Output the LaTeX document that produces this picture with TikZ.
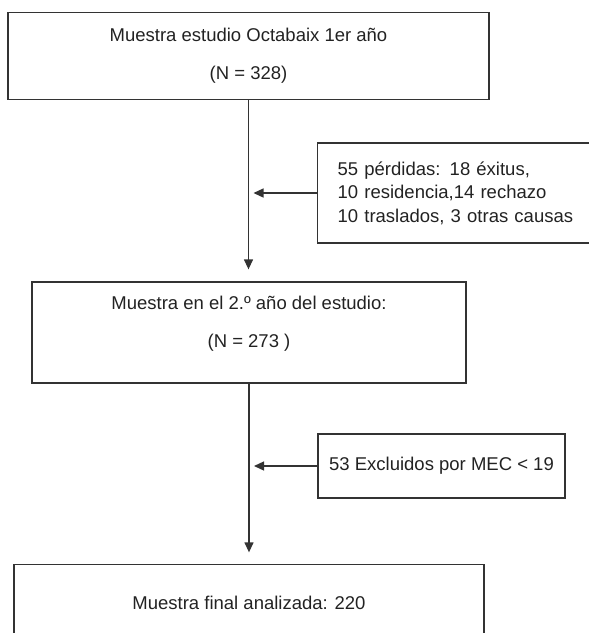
\documentclass[tikz,border=0pt]{standalone}
\usepackage{fontspec}
\setmainfont{Liberation Sans}
\usetikzlibrary{arrows.meta}
\definecolor{linegray}{HTML}{333333}
\definecolor{textgray}{HTML}{222222}
\begin{document}
\begin{tikzpicture}[x=1pt,y=-1pt,
  box/.style={draw=linegray, line width=1.3pt, inner sep=0pt, text=textgray,
    font=\fontsize{18.5}{23.5}\selectfont, align=center},
  flow/.style={draw=linegray, line width=1.3pt, -{Triangle[length=10pt,width=9pt]}}]
\useasboundingbox (0,0) rectangle (589,633);
\node[box, minimum width=481pt, minimum height=87pt] (b1) at (248.5,56)
  {Muestra estudio Octabaix 1er año\\[14.5pt](N = 328)};
\node[box, align=left, text width=243pt, inner xsep=20pt, minimum height=100pt, anchor=west] (b2) at (317,193)
  {55 pérdidas: 18 éxitus,\\10 residencia,14 rechazo\\10 traslados, 3 otras causas};
\node[box, minimum width=434pt, minimum height=101pt] (b3) at (249,332.5)
  {Muestra en el 2.º año del estudio:\\[14pt](N = 273 )\rule[-21pt]{0pt}{1pt}};
\node[box, minimum width=247pt, minimum height=64pt] (b4) at (441.5,466)
  {53 Excluidos por MEC < 19};
\node[box, minimum width=470pt, minimum height=77pt] (b5) at (249,603)
  {Muestra final analizada: 220};
\draw[flow, shorten >=12pt] (b1.south) -- (b1.south |- b3.north);
\draw[flow, shorten >=11.5pt] (b3.south) -- (b3.south |- b5.north);
\draw[flow, shorten >=5pt] (b2.west) -- (b2.west -| b1.south);
\draw[flow, shorten >=5pt] (b4.west) -- (b4.west -| b3.south);
\end{tikzpicture}
\end{document}
